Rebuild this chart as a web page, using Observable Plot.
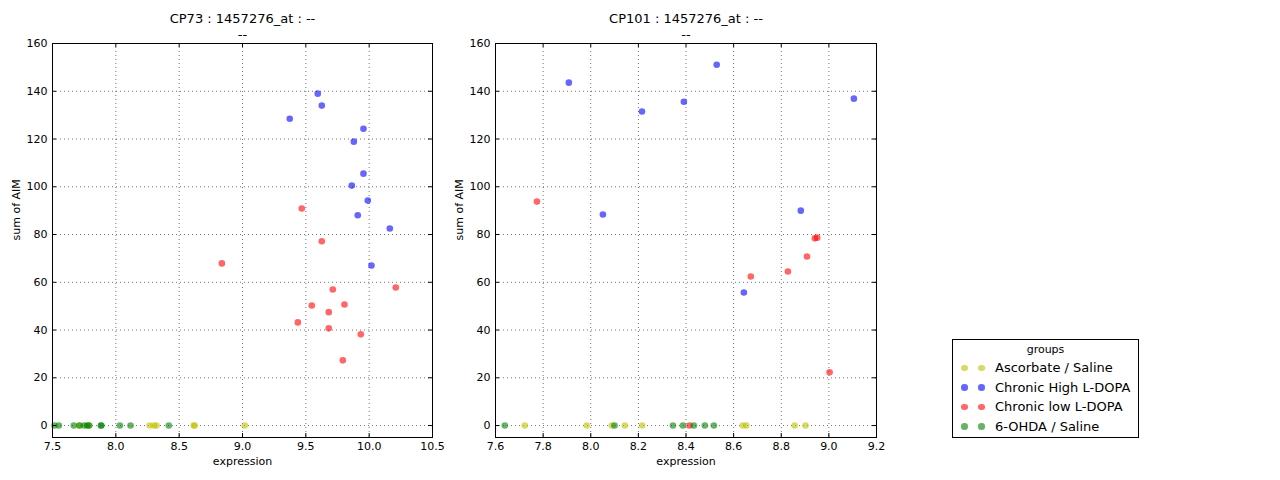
<!DOCTYPE html>
<html>
<head>
<meta charset="utf-8">
<script src="https://cdn.jsdelivr.net/npm/d3@7"></script>
<script src="https://cdn.jsdelivr.net/npm/@observablehq/plot@0.6"></script>
<style>
  body { margin: 0; background: #fff; font-family: "DejaVu Sans", sans-serif; }
  #wrap { position: relative; width: 1280px; height: 480px; overflow: hidden; }
  .panel { position: absolute; top: 0; }
  #legend { position: absolute; left: 952px; top: 339px; width: 185px; height: 97px; border: 1px solid #000; background: #fff; font-family: "DejaVu Sans", sans-serif; }
  #legend .ttl { text-align: center; font-size: 11px; margin-top: 3px; height: 15px; }
  #legend .row { position: relative; height: 19.5px; font-size: 13px; line-height: 19.5px; }
  #legend .dot { position: absolute; top: 6.5px; width: 6.6px; height: 6.6px; border-radius: 50%; opacity: 0.6; }
  #legend .lab { position: absolute; left: 42px; top: 0; white-space: nowrap; }
</style>
</head>
<body>
<div id="wrap">
  <div id="p1" class="panel" style="left:0px"></div>
  <div id="p2" class="panel" style="left:443px"></div>
  <div id="legend"></div>
</div>
<script>
// ---- data ----
const groups = ["Ascorbate / Saline", "Chronic High L-DOPA", "Chronic low L-DOPA", "6-OHDA / Saline"];
const groupColors = ["#bfbf00", "#0000ff", "#ff0000", "#008000"];

const titles = ["CP73 : 1457276_at : --", "CP101 : 1457276_at : --"];
const subtitle = "--";
const yTicks = [0, 20, 40, 60, 80, 100, 120, 140, 160];
const xTicksCP73 = [7.5, 8.0, 8.5, 9.0, 9.5, 10.0, 10.5];
const xTicksCP101 = [7.6, 7.8, 8.0, 8.2, 8.4, 8.6, 8.8, 9.0, 9.2];

// CP73
const cp73AscX = [7.713, 7.787, 8.266, 8.300, 8.321, 8.615, 8.622, 9.018];
const cp73AscY = [0, 0, 0, 0, 0, 0, 0, 0];
const cp73HighX = [9.373, 9.594, 9.626, 9.955, 9.879, 9.955, 9.863, 9.989, 9.910, 10.163, 10.018];
const cp73HighY = [128.5, 139.0, 134.0, 124.3, 118.9, 105.5, 100.5, 94.2, 88.1, 82.5, 67.0];
const cp73LowX = [9.468, 9.626, 8.837, 9.713, 10.210, 9.547, 9.805, 9.681, 9.437, 9.681, 9.934, 9.792];
const cp73LowY = [90.9, 77.2, 67.9, 57.0, 57.8, 50.3, 50.7, 47.5, 43.2, 40.7, 38.2, 27.3];
const cp73OhdaX = [7.516, 7.550, 7.668, 7.713, 7.750, 7.774, 7.789, 7.882, 7.886, 8.032, 8.116, 8.418];
const cp73OhdaY = [0, 0, 0, 0, 0, 0, 0, 0, 0, 0, 0, 0];

// CP101
const cp101AscX = [7.723, 7.983, 8.088, 8.143, 8.216, 8.639, 8.653, 8.856, 8.902];
const cp101AscY = [0, 0, 0, 0, 0, 0, 0, 0, 0];
const cp101HighX = [7.908, 8.529, 8.215, 8.391, 9.105, 8.051, 8.882, 8.643];
const cp101HighY = [143.6, 151.1, 131.5, 135.6, 136.9, 88.4, 90.0, 55.7];
const cp101LowX = [7.774, 8.941, 8.951, 8.672, 8.828, 8.908, 9.003, 8.415];
const cp101LowY = [93.8, 78.4, 78.7, 62.4, 64.5, 70.8, 22.3, 0];
const cp101OhdaX = [7.639, 8.100, 8.345, 8.387, 8.433, 8.479, 8.517];
const cp101OhdaY = [0, 0, 0, 0, 0, 0, 0];

function table(xsList, ysList) {
  const rows = [];
  xsList.forEach((xs, g) => xs.forEach((x, i) => rows.push({x, y: ysList[g][i], group: groups[g]})));
  return rows;
}

const dataCP73 = table([cp73AscX, cp73HighX, cp73LowX, cp73OhdaX], [cp73AscY, cp73HighY, cp73LowY, cp73OhdaY]);
const dataCP101 = table([cp101AscX, cp101HighX, cp101LowX, cp101OhdaX], [cp101AscY, cp101HighY, cp101LowY, cp101OhdaY]);

function panel(title, data, xDomain, xTicks, marginRight) {
  const W = 460, H = 480, mL = 52, mT = 43, mB = 43;
  const fw = W - mL - marginRight, fh = H - mT - mB;
  const grid = {stroke: "#000", strokeOpacity: 0.55, strokeDasharray: "1,3", strokeWidth: 1};
  return Plot.plot({
    width: W, height: H,
    marginLeft: mL, marginRight: marginRight, marginTop: mT, marginBottom: mB,
    style: {fontFamily: "DejaVu Sans, sans-serif", fontSize: "11px", color: "#000", background: "transparent", overflow: "visible"},
    x: {domain: xDomain},
    y: {domain: [-5, 160]},
    color: {domain: groups, range: groupColors},
    marks: [
      Plot.gridX(xTicks, grid),
      Plot.gridY(yTicks, grid),
      Plot.dot(data, {x: "x", y: "y", fill: "group", fillOpacity: 0.6, r: 3.3, stroke: null}),
      Plot.tickX(xTicks, {x: d => d, insetTop: fh - 4, stroke: "#000"}),
      Plot.tickX(xTicks, {x: d => d, insetBottom: fh - 4, stroke: "#000"}),
      Plot.tickY(yTicks, {y: d => d, insetLeft: fw - 4, stroke: "#000"}),
      Plot.tickY(yTicks, {y: d => d, insetRight: fw - 4, stroke: "#000"}),
      Plot.axisX(xTicks, {tickSize: 0, tickPadding: 5, tickFormat: d3.format(".1f"), label: null}),
      Plot.axisY(yTicks, {tickSize: 0, tickPadding: 5, label: null}),
      Plot.frame({stroke: "#000", strokeWidth: 1}),
      Plot.text(["expression"], {frameAnchor: "bottom", dy: 27, fontSize: 11}),
      Plot.text(["sum of AIM"], {frameAnchor: "left", dx: -36, rotate: -90, fontSize: 11}),
      Plot.text([title], {frameAnchor: "top", dy: -30, fontSize: 13}),
      Plot.text([subtitle], {frameAnchor: "top", dy: -14, fontSize: 13})
    ]
  });
}

document.getElementById("p1").appendChild(panel(titles[0], dataCP73, [7.5, 10.5], xTicksCP73, 28));
document.getElementById("p2").appendChild(panel(titles[1], dataCP101, [7.6, 9.2], xTicksCP101, 27));

// legend
const leg = document.getElementById("legend");
const t = document.createElement("div");
t.className = "ttl"; t.textContent = "groups";
leg.appendChild(t);
groups.forEach((g, i) => {
  const row = document.createElement("div");
  row.className = "row";
  [8, 25].forEach(left => {
    const d = document.createElement("div");
    d.className = "dot";
    d.style.left = left + "px";
    d.style.background = groupColors[i];
    row.appendChild(d);
  });
  const lab = document.createElement("div");
  lab.className = "lab"; lab.textContent = g;
  row.appendChild(lab);
  leg.appendChild(row);
});
</script>
</body>
</html>
